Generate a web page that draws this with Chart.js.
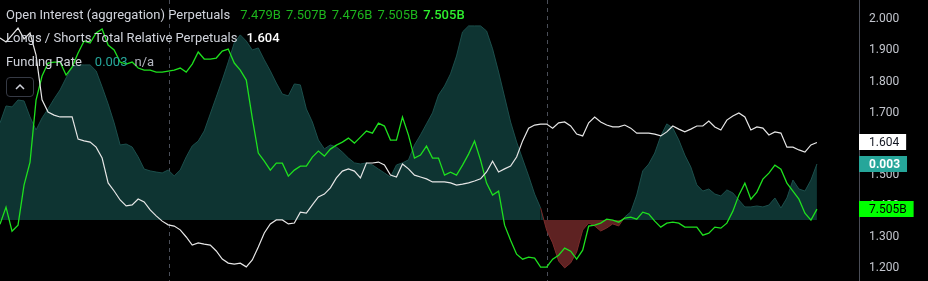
<!DOCTYPE html>
<html><head><meta charset="utf-8">
<script src="https://cdn.jsdelivr.net/npm/chart.js@4.4.1/dist/chart.umd.min.js"></script>
<style>
html,body{margin:0;padding:0;background:#000;width:928px;height:281px;overflow:hidden}
#wrap{position:relative;width:928px;height:281px;background:#000}
canvas{position:absolute;left:0;top:0}
.lg{position:absolute;left:6px;font-family:Roboto,"Noto Sans",sans-serif;font-size:13px;color:#d1d4dc;white-space:nowrap;line-height:16px}
.lg span{margin-left:5px}
.btn{position:absolute;left:6px;top:77px;width:26px;height:18px;border:1px solid #363a45;border-radius:4px}
</style></head>
<body>
<div id="wrap">
<canvas id="c" width="928" height="281"></canvas>
<div class="lg" style="top:7px">Open Interest (aggregation) Perpetuals<span style="margin-left:10px;color:#1db51d">7.479B</span><span style="color:#1db51d">7.507B</span><span style="color:#1db51d">7.476B</span><span style="color:#1db51d">7.505B</span><span style="color:#2ef02e;font-weight:500">7.505B</span></div>
<div class="lg" style="top:30px">Longs / Shorts Total Relative Perpetuals<span style="margin-left:9px;color:#ffffff;font-weight:500">1.604</span></div>
<div class="lg" style="top:54px">Funding Rate<span style="margin-left:13px;color:#26a69a">0.003</span><span style="margin-left:7px;color:#b2b5be">n/a</span></div>
<div class="btn"><svg width="26" height="18" style="position:absolute;left:0;top:0"><polyline points="9,11 13,7 17,11" fill="none" stroke="#d1d4dc" stroke-width="1.5"/></svg></div>
</div>
<script>
// bar indices (categories); the last bars are empty right margin
const BARS = Array.from({length: 144}, (_, i) => i);
const SESSION_BREAKS = [28.2, 91.05];
const TICKS = [1.2, 1.3, 1.4, 1.5, 1.6, 1.7, 1.8, 1.9, 2.0];
const LS_RANGE = [1.1585, 2.0621];
const FUND_RANGE = [-0.00327, 0.01179];
const OI_RANGE = [7.3614, 7.923];

const LONG_SHORT = [
1.940,1.927,1.949,1.972,1.937,1.956,1.885,1.741,1.702,1.692,
1.686,1.686,1.686,1.615,1.609,1.605,1.589,1.554,1.474,1.448,
1.419,1.400,1.403,1.422,1.413,1.387,1.368,1.351,1.339,1.335,
1.323,1.300,1.274,1.281,1.277,1.274,1.255,1.229,1.216,1.213,
1.216,1.204,1.226,1.268,1.313,1.342,1.355,1.355,1.342,1.345,
1.380,1.377,1.403,1.429,1.438,1.458,1.490,1.512,1.519,1.512,
1.490,1.538,1.538,1.541,1.532,1.499,1.493,1.535,1.519,1.499,
1.493,1.487,1.477,1.477,1.477,1.474,1.467,1.470,1.474,1.480,
1.487,1.509,1.544,1.509,1.519,1.528,1.557,1.609,1.650,1.660,
1.663,1.663,1.650,1.667,1.670,1.657,1.631,1.625,1.667,1.686,
1.670,1.660,1.654,1.654,1.660,1.650,1.634,1.634,1.634,1.631,
1.625,1.638,1.657,1.647,1.638,1.647,1.657,1.657,1.673,1.654,
1.644,1.676,1.689,1.699,1.686,1.644,1.654,1.650,1.628,1.638,
1.634,1.589,1.589,1.580,1.573,1.596,1.604];

const OPEN_INTEREST = [
7.475,7.509,7.461,7.473,7.553,7.599,7.723,7.771,7.797,7.799,
7.799,7.773,7.789,7.817,7.841,7.837,7.857,7.865,7.833,7.823,
7.799,7.795,7.799,7.787,7.783,7.783,7.779,7.779,7.781,7.783,
7.787,7.779,7.795,7.819,7.805,7.805,7.807,7.821,7.825,7.797,
7.783,7.763,7.687,7.617,7.601,7.583,7.597,7.597,7.571,7.583,
7.591,7.591,7.609,7.621,7.611,7.625,7.633,7.639,7.647,7.637,
7.649,7.661,7.657,7.677,7.671,7.643,7.643,7.689,7.653,7.607,
7.613,7.631,7.607,7.607,7.573,7.579,7.573,7.593,7.615,7.641,
7.603,7.557,7.533,7.541,7.473,7.443,7.415,7.405,7.409,7.407,
7.389,7.389,7.405,7.413,7.427,7.421,7.405,7.423,7.471,7.473,
7.477,7.485,7.483,7.479,7.487,7.489,7.485,7.499,7.495,7.481,
7.469,7.477,7.479,7.477,7.469,7.469,7.469,7.453,7.457,7.469,
7.467,7.477,7.501,7.533,7.557,7.525,7.539,7.565,7.577,7.593,
7.585,7.557,7.541,7.525,7.497,7.483,7.505];

const FUNDING = [
0.00520,0.00611,0.00606,0.00643,0.00638,0.00552,0.00482,0.00547,0.00595,0.00649,
0.00697,0.00761,0.00820,0.00831,0.00831,0.00831,0.00799,0.00713,0.00622,0.00520,
0.00402,0.00407,0.00391,0.00338,0.00273,0.00263,0.00257,0.00252,0.00268,0.00236,
0.00268,0.00338,0.00397,0.00423,0.00477,0.00568,0.00659,0.00750,0.00847,0.00949,
0.00992,0.00959,0.00911,0.00922,0.00858,0.00799,0.00734,0.00675,0.00665,0.00729,
0.00724,0.00595,0.00525,0.00429,0.00381,0.00402,0.00391,0.00364,0.00332,0.00306,
0.00300,0.00306,0.00295,0.00273,0.00252,0.00230,0.00295,0.00306,0.00322,0.00402,
0.00456,0.00515,0.00574,0.00670,0.00718,0.00783,0.00879,0.01008,0.01040,0.01040,
0.01040,0.01013,0.00917,0.00793,0.00659,0.00525,0.00418,0.00327,0.00236,0.00139,
0.00064,-0.00054,-0.00123,-0.00220,-0.00257,-0.00230,-0.00172,-0.00054,-0.00016,-0.00032,
-0.00059,-0.00043,-0.00021,-0.00032,0.00016,0.00043,0.00134,0.00263,0.00300,0.00359,
0.00450,0.00515,0.00493,0.00429,0.00348,0.00284,0.00188,0.00155,0.00166,0.00139,
0.00129,0.00161,0.00145,0.00107,0.00070,0.00070,0.00075,0.00070,0.00080,0.00118,
0.00064,0.00118,0.00214,0.00166,0.00155,0.00214,0.00300];

const FONT = 'Roboto, "Noto Sans", sans-serif';

const sessionLines = {
  id: 'sessionLines',
  beforeDatasetsDraw(chart) {
    const {ctx, chartArea, scales} = chart;
    ctx.save();
    ctx.strokeStyle = '#4a4e58';
    ctx.lineWidth = 1;
    ctx.setLineDash([4, 4]);
    SESSION_BREAKS.forEach(b => {
      const x = Math.round(scales.x.getPixelForValue(b)) + 0.5;
      ctx.beginPath(); ctx.moveTo(x, chartArea.top); ctx.lineTo(x, chartArea.bottom); ctx.stroke();
    });
    ctx.restore();
  }
};

const valueBoxes = {
  id: 'valueBoxes',
  afterDraw(chart) {
    const {ctx, chartArea, scales} = chart;
    const items = [
      {scale: 'yOI', v: OPEN_INTEREST[OPEN_INTEREST.length - 1], text: OPEN_INTEREST[OPEN_INTEREST.length - 1].toFixed(3) + 'B', bg: '#00ff00', fg: '#000000', w: ''},
      {scale: 'yF', v: FUNDING[FUNDING.length - 1], text: FUNDING[FUNDING.length - 1].toFixed(3), bg: '#26a69a', fg: '#ffffff', w: 'bold '},
      {scale: 'y', v: LONG_SHORT[LONG_SHORT.length - 1], text: LONG_SHORT[LONG_SHORT.length - 1].toFixed(3), bg: '#ffffff', fg: '#131722', w: ''}
    ];
    ctx.save();
    items.forEach(it => {
      const y = scales[it.scale].getPixelForValue(it.v);
      ctx.font = it.w + '12px ' + FONT;
      const tw = ctx.measureText(it.text).width;
      const x0 = chartArea.right;
      ctx.fillStyle = it.bg;
      ctx.fillRect(x0, Math.round(y - 8), tw + 17, 16);
      ctx.fillStyle = it.fg;
      ctx.textBaseline = 'middle';
      ctx.textAlign = 'left';
      ctx.fillText(it.text, x0 + 10, y + 0.5);
    });
    ctx.restore();
  }
};

new Chart(document.getElementById('c'), {
  type: 'line',
  data: {
    labels: BARS,
    datasets: [
      {
        label: 'Longs / Shorts Total Relative Perpetuals',
        data: LONG_SHORT, yAxisID: 'y', order: 1,
        borderColor: '#e6e6e6', borderWidth: 1.2, pointRadius: 0, tension: 0, fill: false
      },
      {
        label: 'Open Interest (aggregation) Perpetuals',
        data: OPEN_INTEREST, yAxisID: 'yOI', order: 2,
        borderColor: '#1ee01e', borderWidth: 1.3, pointRadius: 0, tension: 0, fill: false
      },
      {
        label: 'Funding Rate',
        data: FUNDING, yAxisID: 'yF', order: 3,
        borderColor: '#1c4f4c', borderWidth: 1, pointRadius: 0, tension: 0,
        segment: { borderColor: c => (c.p0.parsed.y < 0 || c.p1.parsed.y < 0) ? '#7a2a2a' : '#1c4f4c' },
        fill: { target: { value: 0 }, above: '#0e3432', below: '#5e2222' }
      }
    ]
  },
  options: {
    responsive: false,
    devicePixelRatio: 1,
    animation: false,
    layout: { padding: 0 },
    plugins: { legend: { display: false }, tooltip: { enabled: false } },
    scales: {
      x: { type: 'category', display: false, offset: false },
      y: {
        position: 'right', min: LS_RANGE[0], max: LS_RANGE[1],
        afterBuildTicks: s => { s.ticks = TICKS.map(v => ({ value: v })); },
        afterFit: s => { s.width = 69; s.paddingTop = 0; s.paddingBottom = 0; },
        grid: { display: false, drawTicks: false, tickLength: 0 },
        border: { display: true, color: '#4a4d57', width: 1 },
        ticks: { padding: 10, color: '#c3c6ce', font: { family: FONT, size: 12 }, callback: v => Number(v).toFixed(3) }
      },
      yF: { display: false, min: FUND_RANGE[0], max: FUND_RANGE[1] },
      yOI: { display: false, min: OI_RANGE[0], max: OI_RANGE[1] }
    }
  },
  plugins: [sessionLines, valueBoxes]
});
</script>
</body></html>
